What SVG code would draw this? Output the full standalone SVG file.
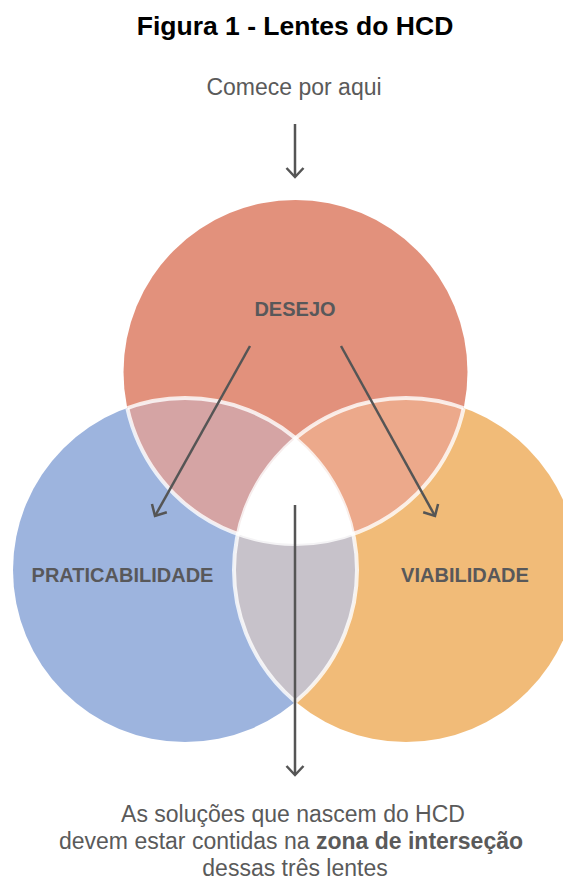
<svg xmlns="http://www.w3.org/2000/svg" width="563" height="880" viewBox="0 0 563 880">
<style>
.title{font-family:"Liberation Sans",Arial,sans-serif;font-size:26.5px;font-weight:bold;fill:#000;text-anchor:middle}
.note{font-family:"Liberation Sans",Arial,sans-serif;font-size:23px;fill:#5a5a5a;text-anchor:middle}
.lbl{font-family:"Liberation Sans",Arial,sans-serif;font-size:20px;font-weight:bold;fill:#58585a;text-anchor:middle}
.outline{fill:none;stroke:#fff;stroke-opacity:0.8;stroke-width:4}
.conn{fill:none;stroke:#555;stroke-width:2.5}
</style>
<defs>
<clipPath id="cTop"><circle cx="295.5" cy="372" r="172"/></clipPath>
<clipPath id="cLeft"><circle cx="185" cy="570" r="172"/></clipPath>
<clipPath id="cRight"><circle cx="406" cy="570" r="172"/></clipPath>
<clipPath id="cLR"><circle cx="185" cy="570" r="172"/><circle cx="406" cy="570" r="172"/></clipPath>
<clipPath id="cTR"><circle cx="295.5" cy="372" r="172"/><circle cx="406" cy="570" r="172"/></clipPath>
<clipPath id="cTL"><circle cx="295.5" cy="372" r="172"/><circle cx="185" cy="570" r="172"/></clipPath>
<marker id="arr" markerUnits="userSpaceOnUse" markerWidth="24" markerHeight="24" viewBox="-12 -12 24 24" refX="0" refY="0" orient="auto" overflow="visible">
<path d="M-9,-8.5 L0,0 L-9,8.5" fill="none" stroke="#555" stroke-width="2.5"/>
</marker>
</defs>
<rect width="563" height="880" fill="#fff"/>
<text class="title" x="295" y="35">Figura 1 - Lentes do HCD</text>
<text class="note" x="294" y="95" fill="#666">Comece por aqui</text>

<g id="desejo"><circle cx="295.5" cy="372" r="172" fill="#E2917C"/></g>
<g id="praticabilidade"><circle cx="185" cy="570" r="172" fill="#9DB4DE"/></g>
<g id="viabilidade"><circle cx="406" cy="570" r="172" fill="#F1BB78"/></g>

<g id="overlaps">
<circle cx="185" cy="570" r="172" fill="#D5A4A4" clip-path="url(#cTop)"/>
<circle cx="406" cy="570" r="172" fill="#ECA98B" clip-path="url(#cTop)"/>
<circle cx="406" cy="570" r="172" fill="#C7C2CA" clip-path="url(#cLeft)"/>
<g clip-path="url(#cTop)"><circle cx="406" cy="570" r="172" fill="#fff" clip-path="url(#cLeft)"/></g>
<circle class="outline" cx="295.5" cy="372" r="172" clip-path="url(#cLR)"/>
<circle class="outline" cx="185" cy="570" r="172" clip-path="url(#cTR)"/>
<circle class="outline" cx="406" cy="570" r="172" clip-path="url(#cTL)"/>
</g>

<g id="labels">
<text class="lbl" x="295" y="316">DESEJO</text>
<text class="lbl" x="122.5" y="582">PRATICABILIDADE</text>
<text class="lbl" x="465" y="582">VIABILIDADE</text>
</g>

<g id="connectors">
<line class="conn" x1="295" y1="124" x2="295" y2="177" marker-end="url(#arr)"/>
<line class="conn" x1="250" y1="346" x2="155" y2="516" marker-end="url(#arr)"/>
<line class="conn" x1="341" y1="346" x2="435" y2="516" marker-end="url(#arr)"/>
<line class="conn" x1="295" y1="505" x2="295" y2="775" marker-end="url(#arr)"/>
</g>

<text class="note" x="293" y="822">As soluções que nascem do HCD</text>
<text class="note" x="291" y="849">devem estar contidas na <tspan font-weight="bold">zona de interseção</tspan></text>
<text class="note" x="295" y="876">dessas três lentes</text>
</svg>
